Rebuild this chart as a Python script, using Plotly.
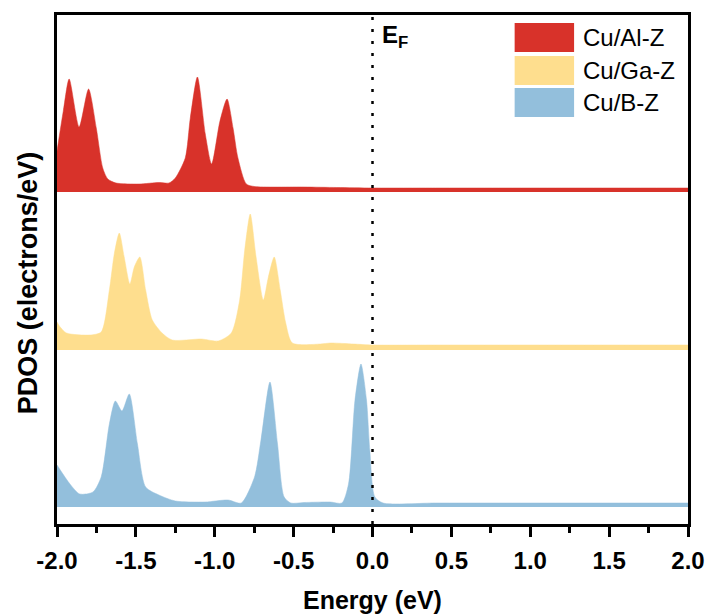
import plotly.graph_objects as go

# ---------------- data (PDOS, arbitrary units) ----------------
al_energy = [-2.00, -1.96, -1.923, -1.86, -1.80, -1.751, -1.71, -1.678, -1.626, -1.48, -1.354, -1.29,
             -1.25, -1.187, -1.155, -1.11, -1.06, -1.02, -0.967, -0.922, -0.884, -0.853, -0.80,
             -0.748, -0.434, -0.226, 0.0, 0.4, 0.8, 1.2, 1.6, 2.0]
al_pdos = [0.82, 1.62, 2.26, 1.30, 2.06, 1.28, 0.48, 0.26, 0.18, 0.16, 0.19, 0.18,
           0.28, 0.68, 1.48, 2.30, 1.16, 0.56, 1.42, 1.86, 1.28, 0.68, 0.16,
           0.11, 0.10, 0.09, 0.08, 0.08, 0.08, 0.08, 0.08, 0.08]

ga_energy = [-2.00, -1.985, -1.94, -1.79, -1.72, -1.668, -1.636, -1.605, -1.574, -1.538, -1.51, -1.475,
             -1.438, -1.396, -1.334, -1.27, -1.083, -0.978, -0.895, -0.842, -0.81, -0.775, -0.738,
             -0.692, -0.66, -0.623, -0.585, -0.55, -0.508, -0.33, -0.268, -0.12, 0.0, 0.4, 0.8,
             1.2, 1.6, 2.0]
ga_pdos = [0.56, 0.48, 0.34, 0.30, 0.36, 1.20, 1.94, 2.34, 1.86, 1.32, 1.66, 1.86,
           1.20, 0.60, 0.34, 0.20, 0.22, 0.18, 0.34, 1.00, 2.00, 2.72, 1.86,
           1.00, 1.46, 1.86, 1.20, 0.54, 0.14, 0.12, 0.14, 0.12, 0.10, 0.10, 0.10,
           0.10, 0.10, 0.10]

b_energy = [-2.00, -1.918, -1.856, -1.772, -1.72, -1.668, -1.63, -1.588, -1.542, -1.49, -1.438,
            -1.354, -1.25, -1.062, -0.915, -0.832, -0.748, -0.707, -0.65, -0.602, -0.56, -0.518,
            -0.434, -0.268, -0.194, -0.152, -0.111, -0.073, -0.038, -0.017, 0.015, 0.067, 0.4,
            0.8, 1.2, 1.6, 2.0]
b_pdos = [0.84, 0.46, 0.26, 0.30, 0.60, 1.66, 2.12, 1.92, 2.26, 1.26, 0.40,
          0.24, 0.12, 0.10, 0.14, 0.08, 0.60, 1.34, 2.50, 1.26, 0.20, 0.08,
          0.09, 0.10, 0.08, 0.46, 2.14, 2.86, 2.14, 1.14, 0.20, 0.08, 0.08,
          0.08, 0.08, 0.08, 0.08]

series_names = ["Cu/Al-Z", "Cu/Ga-Z", "Cu/B-Z"]
series_offsets = [6.30, 3.14, 0.0]
x_ticks = [-2.0, -1.5, -1.0, -0.5, 0.0, 0.5, 1.0, 1.5, 2.0]
x_tick_labels = ["-2.0", "-1.5", "-1.0", "-0.5", "0.0", "0.5", "1.0", "1.5", "2.0"]

colors = ["#D8322A", "#FEDE8E", "#93BFDC"]
series = [(al_energy, al_pdos), (ga_energy, ga_pdos), (b_energy, b_pdos)]

fig = go.Figure()
for (xs, ys), off, col, name in zip(series, series_offsets, colors, series_names):
    fig.add_trace(go.Scatter(x=[-2.0, 2.0], y=[off, off], mode="lines",
                             line=dict(width=0), hoverinfo="skip", showlegend=False))
    fig.add_trace(go.Scatter(x=xs, y=[off + v for v in ys], mode="lines", name=name,
                             line=dict(width=0.5, color=col, shape="spline", smoothing=0.7),
                             fill="tonexty", fillcolor=col, showlegend=False))

# Fermi level
fig.add_shape(type="line", xref="x", yref="paper", x0=0, x1=0, y0=0, y1=1.012,
              line=dict(color="black", width=2.5, dash="3px,9px"))

# legend drawn as boxes + labels (paper coordinates)
W, H, L, T = 637.0, 509.0, 57.0, 15.0
def px(xp):
    return (xp - L) / W
def py(yp):
    return 1 - (yp - T) / H

box_tops = [23, 56, 88]
for top, col, name in zip(box_tops, colors, series_names):
    fig.add_shape(type="rect", xref="paper", yref="paper", x0=px(519), x1=px(579),
                  y0=py(top + 29), y1=py(top), line=dict(width=0), fillcolor=col)
    fig.add_annotation(xref="paper", yref="paper", x=px(586), y=py(top + 14.5),
                       text=name, showarrow=False, xanchor="left", yanchor="middle",
                       font=dict(family="Arial, Liberation Sans", size=24, color="black"))

fig.add_annotation(xref="paper", yref="paper", x=px(383), y=py(36), text="<b>E<sub>F</sub></b>",
                   showarrow=False, xanchor="left", yanchor="middle",
                   font=dict(family="Arial, Liberation Sans", size=24, color="black"))

fig.add_annotation(xref="paper", yref="paper", x=px(376), y=py(600), text="<b>Energy (eV)</b>",
                   showarrow=False, xanchor="center", yanchor="middle",
                   font=dict(family="Arial, Liberation Sans", size=25, color="black"))
fig.add_annotation(xref="paper", yref="paper", x=px(28), y=py(283), text="<b>PDOS (electrons/eV)</b>",
                   showarrow=False, xanchor="center", yanchor="middle", textangle=-90,
                   font=dict(family="Arial, Liberation Sans", size=27, color="black"))

fig.update_layout(
    width=717, height=616,
    margin=dict(l=57, r=23, t=15, b=92),
    paper_bgcolor="white", plot_bgcolor="white",
    showlegend=False,
    xaxis=dict(range=[-2.0, 2.0], tickvals=x_ticks, ticktext=x_tick_labels,
               showline=True, linewidth=3, linecolor="black", mirror=True,
               ticks="outside", ticklen=10, tickwidth=2.5, tickcolor="black",
               ticklabelstandoff=3,
               minor=dict(dtick=0.25, ticks="outside", ticklen=6, tickwidth=2.5, tickcolor="black"),
               showgrid=False, zeroline=False,
               tickfont=dict(family="Arial, Liberation Sans", size=24, color="black", weight="bold")),
    yaxis=dict(range=[-0.34, 9.84], showticklabels=False, ticks="",
               showline=True, linewidth=3, linecolor="black", mirror=True,
               showgrid=False, zeroline=False),
)

fig.write_html("out.html")
